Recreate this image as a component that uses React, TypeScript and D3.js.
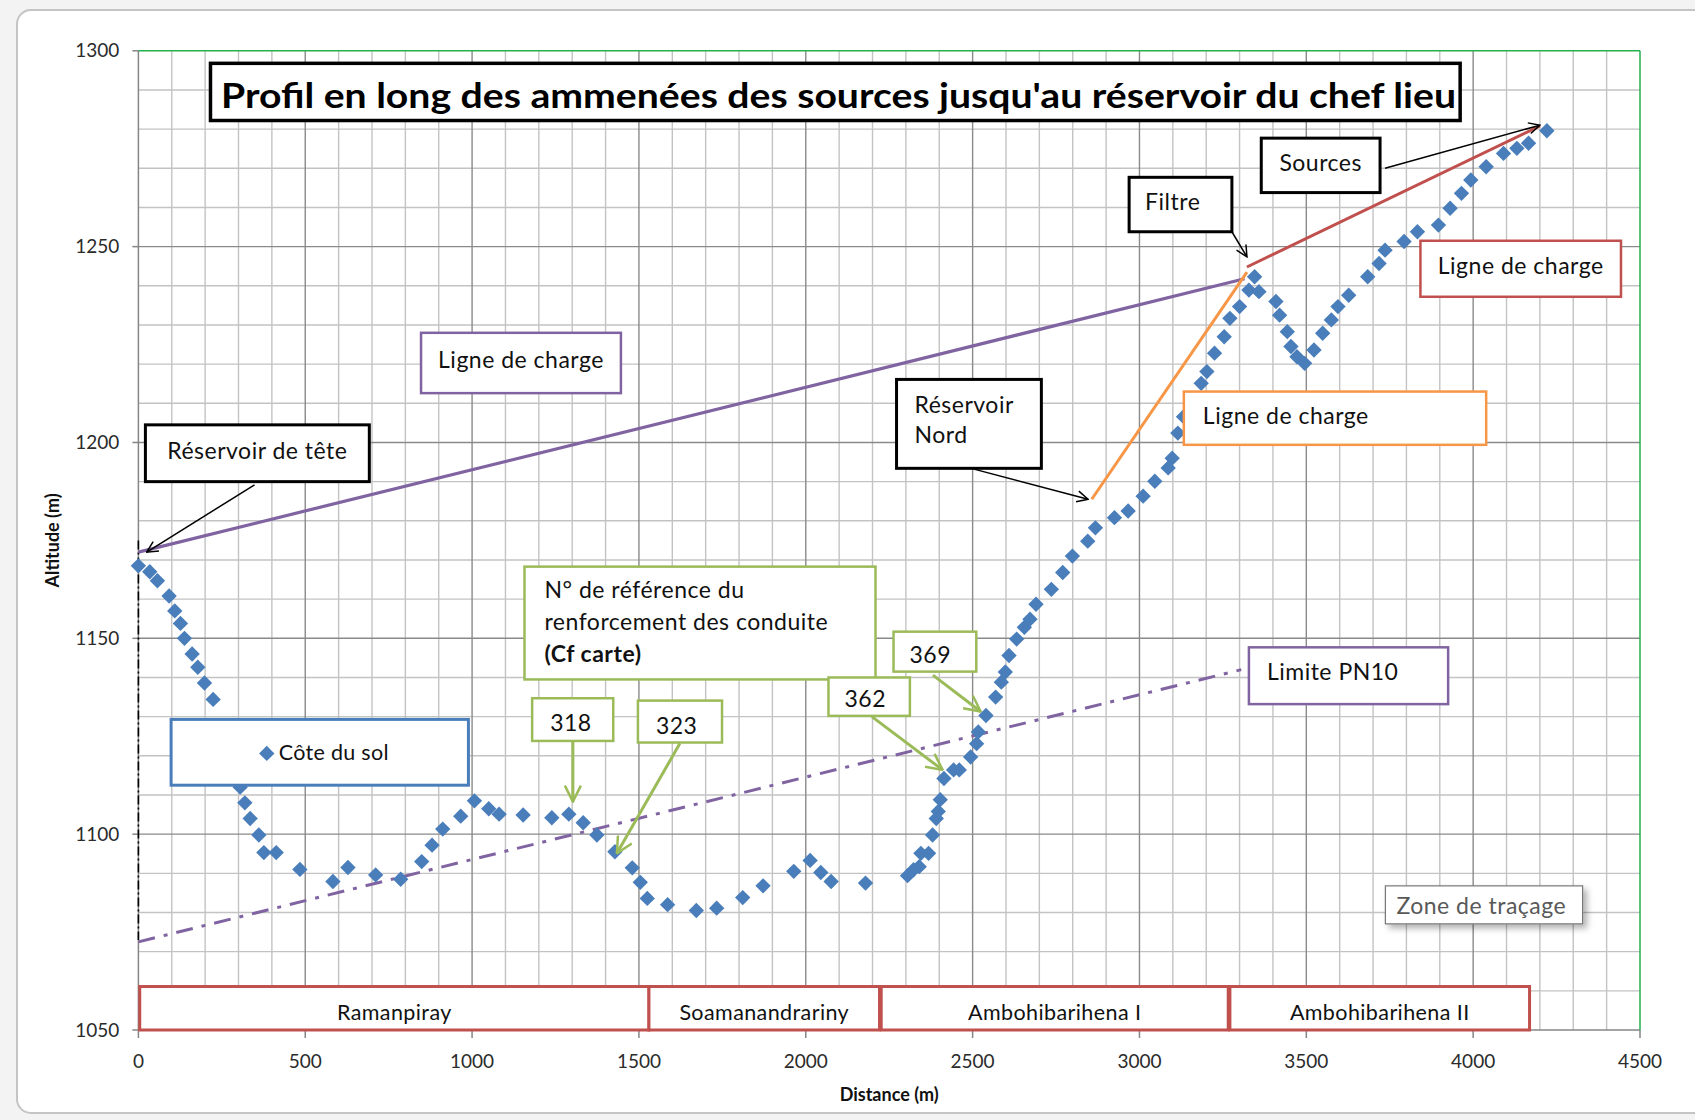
import React, { useEffect, useRef } from "react";
import * as d3 from "d3";

// Côte du sol (terrain profile)
const distance = [0, 34, 57, 92, 109, 126, 138, 161, 178, 198, 224, 305, 319, 335, 361, 376, 413, 484, 583, 628, 711, 786, 849, 880, 912, 966, 1007, 1050, 1081, 1153, 1239, 1290, 1333, 1374, 1428, 1480, 1504, 1525, 1586, 1672, 1733, 1811, 1872, 1964, 2013, 2045, 2076, 2179, 2305, 2323, 2340, 2345, 2368, 2380, 2391, 2397, 2403, 2414, 2443, 2460, 2494, 2512, 2517, 2540, 2569, 2586, 2598, 2609, 2632, 2655, 2672, 2690, 2736, 2770, 2799, 2845, 2868, 2925, 2966, 3011, 3046, 3086, 3098, 3115, 3132, 3185, 3202, 3225, 3254, 3271, 3300, 3328, 3345, 3358, 3409, 3420, 3443, 3454, 3472, 3495, 3523, 3549, 3575, 3595, 3627, 3684, 3718, 3736, 3793, 3833, 3896, 3931, 3965, 3993, 4039, 4091, 4131, 4166, 4221];
const altitude = [1168.5, 1167, 1164.7, 1160.8, 1157, 1153.8, 1150, 1146, 1142.6, 1138.6, 1134.4, 1112, 1108, 1104, 1099.8, 1095.3, 1095.3, 1091, 1087.9, 1091.5, 1089.6, 1088.5, 1093, 1097.2, 1101.3, 1104.6, 1108.5, 1106.5, 1105.1, 1104.9, 1104.2, 1105.1, 1102.9, 1099.8, 1095.5, 1091.4, 1087.7, 1083.6, 1082, 1080.5, 1081.1, 1083.8, 1086.8, 1090.5, 1093.3, 1090.2, 1087.9, 1087.5, 1089.4, 1090.9, 1091.7, 1095.1, 1095.1, 1099.8, 1104, 1105.8, 1108.8, 1114.2, 1116.4, 1116.4, 1119.7, 1123.1, 1126.1, 1130.3, 1135, 1138.8, 1141.4, 1145.6, 1149.8, 1152.8, 1154.9, 1158.7, 1162.5, 1166.8, 1171, 1174.8, 1178.2, 1180.8, 1182.5, 1186.3, 1190.1, 1193.5, 1196, 1202.4, 1206.6, 1215.1, 1218.1, 1222.8, 1227, 1231.7, 1234.7, 1238.9, 1242.3, 1238.5, 1236, 1232.5, 1228.3, 1224.5, 1221.9, 1220.2, 1223.6, 1227.9, 1231.3, 1234.7, 1237.6, 1242.3, 1245.7, 1249.1, 1251.3, 1253.8, 1255.5, 1259.8, 1263.6, 1267, 1270.4, 1273.8, 1275.1, 1276.4, 1279.6];

// lignes de charge
const chargeTeteX = [0, 3315];
const chargeTeteY = [1172, 1241.8];
const chargeNordX = [2857, 3322];
const chargeNordY = [1185.5, 1243.5];
const chargeSourceX = [3322, 4200];
const chargeSourceY = [1244.8, 1280.8];

// limite PN10
const pn10X = [0, 3305];
const pn10Y = [1072.5, 1142];

// zones along the pipe
const zoneNames = ["Ramanpiray", "Soamanandrariny", "Ambohibarihena I", "Ambohibarihena II"];
const zoneStart = [4, 1530, 2226, 3271];
const zoneEnd = [1530, 2221, 3266, 4169];

const xTicks = [0, 500, 1000, 1500, 2000, 2500, 3000, 3500, 4000, 4500];
const yTicks = [1050, 1100, 1150, 1200, 1250, 1300];

const W = 1695;
const H = 1120;
const FONT = "Lato, 'Open Sans', sans-serif";
const PURPLE = "#8064a2";
const ORANGE = "#f79646";
const RED = "#c0504d";
const GREEN = "#9bbb59";
const BLUE = "#4a7ebb";

type Ann = {
  x0: number; x1: number; y0: number; y1: number;
  stroke: string; sw: number;
  lines: { t: string; bold?: boolean }[];
  anchor: "start" | "middle";
  dx: number; dy: number; lh?: number;
};

// callout boxes, placed in chart units
const annotations: Ann[] = [
  { x0: 21, x1: 692, y0: 1204.5, y1: 1190, stroke: "#000", sw: 3, lines: [{ t: "Réservoir de tête" }], anchor: "middle", dx: 0, dy: 34 },
  { x0: 847, x1: 1446, y0: 1228, y1: 1212.6, stroke: PURPLE, sw: 2.5, lines: [{ t: "Ligne de charge" }], anchor: "middle", dx: 0, dy: 35 },
  { x0: 2272, x1: 2706, y0: 1216.1, y1: 1193.4, stroke: "#000", sw: 3, lines: [{ t: "Réservoir" }, { t: "Nord" }], anchor: "start", dx: 18, dy: 34, lh: 30 },
  { x0: 1157, x1: 2209, y0: 1168.3, y1: 1139.5, stroke: GREEN, sw: 2.5, lines: [{ t: "N° de référence du" }, { t: "renforcement des conduite" }, { t: "(Cf carte)", bold: true }], anchor: "start", dx: 20, dy: 31, lh: 32 },
  { x0: 2263, x1: 2511, y0: 1151.7, y1: 1141.5, stroke: GREEN, sw: 2.5, lines: [{ t: "369" }], anchor: "start", dx: 16, dy: 31 },
  { x0: 2068, x1: 2312, y0: 1140, y1: 1130.2, stroke: GREEN, sw: 2.5, lines: [{ t: "362" }], anchor: "start", dx: 16, dy: 30 },
  { x0: 1180, x1: 1423, y0: 1134.7, y1: 1123.8, stroke: GREEN, sw: 2.5, lines: [{ t: "318" }], anchor: "start", dx: 18, dy: 33 },
  { x0: 1497, x1: 1749, y0: 1134.1, y1: 1123.4, stroke: GREEN, sw: 2.5, lines: [{ t: "323" }], anchor: "start", dx: 18, dy: 33 },
  { x0: 2969, x1: 3277, y0: 1267.7, y1: 1253.8, stroke: "#000", sw: 3, lines: [{ t: "Filtre" }], anchor: "start", dx: 16, dy: 33 },
  { x0: 3365, x1: 3721, y0: 1277.7, y1: 1263.8, stroke: "#000", sw: 3, lines: [{ t: "Sources" }], anchor: "middle", dx: 0, dy: 33 },
  { x0: 3842, x1: 4443, y0: 1251.5, y1: 1237.2, stroke: RED, sw: 2.5, lines: [{ t: "Ligne de charge" }], anchor: "middle", dx: 0, dy: 33 },
  { x0: 3133, x1: 4039, y0: 1213, y1: 1199.4, stroke: ORANGE, sw: 2.5, lines: [{ t: "Ligne de charge" }], anchor: "start", dx: 19, dy: 32 },
  { x0: 3328, x1: 3925, y0: 1147.7, y1: 1133.2, stroke: PURPLE, sw: 2.5, lines: [{ t: "Limite PN10" }], anchor: "start", dx: 18, dy: 33 },
];

// arrows: [fromX, fromY, toX, toY]
const blackArrows = [
  [348, 1189.2, 25, 1172],
  [2504, 1193.2, 2846, 1185.5],
  [3277, 1253.8, 3322, 1247.4],
  [3736, 1270, 4200, 1281],
];
const greenArrows = [
  [2381, 1140.6, 2524, 1131.3],
  [2198, 1130, 2410, 1116.4],
  [1302, 1123.6, 1302, 1108.3],
  [1623, 1123.2, 1434, 1095.1],
];

export default function App() {
  const ref = useRef<SVGSVGElement>(null);

  useEffect(() => {
    const svg = d3.select(ref.current);
    svg.selectAll("*").remove();

    const x = d3.scaleLinear().domain([0, 4500]).range([138.4, 1640]);
    const y = d3.scaleLinear().domain([1050, 1300]).range([1030, 50.8]);

    const defs = svg.append("defs");
    const mk = (id: string, color: string, s: number, sw: number) =>
      defs.append("marker")
        .attr("id", id)
        .attr("viewBox", `0 0 ${s} ${s}`)
        .attr("refX", s - 1).attr("refY", s / 2)
        .attr("markerWidth", s).attr("markerHeight", s)
        .attr("markerUnits", "userSpaceOnUse")
        .attr("orient", "auto")
        .append("path")
        .attr("d", `M1,1 L${s - 1},${s / 2} L1,${s - 1}`)
        .attr("fill", "none").attr("stroke", color).attr("stroke-width", sw);
    mk("arrBlack", "#000", 13, 1.5);
    mk("arrGreen", GREEN, 18, 2.5);
    const sh = defs.append("filter").attr("id", "shadow").attr("x", "-10%").attr("y", "-20%").attr("width", "130%").attr("height", "160%");
    sh.append("feDropShadow").attr("dx", 4).attr("dy", 4).attr("stdDeviation", 3).attr("flood-color", "#000").attr("flood-opacity", 0.3);

    // background + chart frame
    svg.append("rect").attr("width", W).attr("height", H).attr("fill", "#f3f3f3");
    svg.append("rect").attr("x", 17).attr("y", 10).attr("width", 1760).attr("height", 1103)
      .attr("rx", 14).attr("fill", "#fff").attr("stroke", "#c4c4c4").attr("stroke-width", 2);

    // grid
    const grid = svg.append("g");
    const minorX = d3.range(100, 4500, 100).filter(v => v % 500 !== 0);
    const minorY = d3.range(1060, 1300, 10).filter(v => v % 50 !== 0);
    grid.selectAll(".mx").data(minorX).join("line")
      .attr("x1", d => x(d)).attr("x2", d => x(d)).attr("y1", y(1300)).attr("y2", y(1050))
      .attr("stroke", "#c3c3c3").attr("stroke-width", 1.4);
    grid.selectAll(".my").data(minorY).join("line")
      .attr("y1", d => y(d)).attr("y2", d => y(d)).attr("x1", x(0)).attr("x2", x(4500))
      .attr("stroke", "#c3c3c3").attr("stroke-width", 1.4);
    grid.selectAll(".Mx").data(xTicks.slice(1, -1)).join("line")
      .attr("x1", d => x(d)).attr("x2", d => x(d)).attr("y1", y(1300)).attr("y2", y(1050))
      .attr("stroke", "#8a8a8a").attr("stroke-width", 1.4);
    grid.selectAll(".My").data(yTicks.slice(1, -1)).join("line")
      .attr("y1", d => y(d)).attr("y2", d => y(d)).attr("x1", x(0)).attr("x2", x(4500))
      .attr("stroke", "#8a8a8a").attr("stroke-width", 1.4);

    // axes
    svg.append("line").attr("x1", x(0)).attr("x2", x(0)).attr("y1", y(1300)).attr("y2", y(1050))
      .attr("stroke", "#868686").attr("stroke-width", 1.5);
    svg.append("line").attr("x1", x(0)).attr("x2", x(4500)).attr("y1", y(1050)).attr("y2", y(1050))
      .attr("stroke", "#868686").attr("stroke-width", 1.5);
    svg.append("line").attr("x1", x(0)).attr("x2", x(4500)).attr("y1", y(1300)).attr("y2", y(1300))
      .attr("stroke", "#22b14c").attr("stroke-width", 1.5);
    svg.append("line").attr("x1", x(4500)).attr("x2", x(4500)).attr("y1", y(1300)).attr("y2", y(1050))
      .attr("stroke", "#22b14c").attr("stroke-width", 1.5);

    svg.selectAll(".yt").data(yTicks).join("line")
      .attr("x1", x(0) - 6).attr("x2", x(0)).attr("y1", d => y(d)).attr("y2", d => y(d))
      .attr("stroke", "#868686").attr("stroke-width", 1.5);
    svg.selectAll(".xt").data(xTicks).join("line")
      .attr("x1", d => x(d)).attr("x2", d => x(d)).attr("y1", y(1050)).attr("y2", y(1050) + 8)
      .attr("stroke", "#868686").attr("stroke-width", 1.5);

    svg.selectAll(".yl").data(yTicks).join("text")
      .attr("x", x(0) - 19).attr("y", d => y(d)).attr("dy", "0.35em")
      .attr("text-anchor", "end").attr("font-family", FONT).attr("font-size", 19).attr("fill", "#2b2b2b")
      .text(d => d);
    svg.selectAll(".xl").data(xTicks).join("text")
      .attr("x", d => x(d)).attr("y", y(1050) + 38)
      .attr("text-anchor", "middle").attr("font-family", FONT).attr("font-size", 19).attr("fill", "#2b2b2b")
      .text(d => d);

    svg.append("text").attr("x", (x(0) + x(4500)) / 2).attr("y", 1101)
      .attr("text-anchor", "middle").attr("font-family", FONT).attr("font-size", 18).attr("font-weight", "bold")
      .attr("fill", "#111").text("Distance (m)");
    svg.append("text").attr("transform", `translate(59,${(y(1300) + y(1050)) / 2}) rotate(-90)`)
      .attr("text-anchor", "middle").attr("font-family", FONT).attr("font-size", 18).attr("font-weight", "bold")
      .attr("fill", "#111").text("Altitude (m)");

    // vertical dash-dot at the start
    svg.append("line").attr("x1", x(0)).attr("x2", x(0)).attr("y1", y(1175)).attr("y2", y(1073))
      .attr("stroke", "#000").attr("stroke-width", 1.6).attr("stroke-dasharray", "9,3,2,3");

    const seg = (xs: number[], ys: number[]) =>
      d3.line<number>().x(i => x(xs[i])).y(i => y(ys[i]))(d3.range(xs.length));

    svg.append("path").attr("d", seg(pn10X, pn10Y)).attr("fill", "none")
      .attr("stroke", PURPLE).attr("stroke-width", 3).attr("stroke-dasharray", "17,9,4,9");
    svg.append("path").attr("d", seg(chargeTeteX, chargeTeteY)).attr("fill", "none")
      .attr("stroke", PURPLE).attr("stroke-width", 3.2);
    svg.append("path").attr("d", seg(chargeNordX, chargeNordY)).attr("fill", "none")
      .attr("stroke", ORANGE).attr("stroke-width", 3);
    svg.append("path").attr("d", seg(chargeSourceX, chargeSourceY)).attr("fill", "none")
      .attr("stroke", RED).attr("stroke-width", 3);

    // terrain points
    const diamond = d3.symbol().type(d3.symbolSquare).size(118);
    svg.append("g").selectAll("path").data(d3.range(distance.length)).join("path")
      .attr("d", diamond)
      .attr("transform", i => `translate(${x(distance[i])},${y(altitude[i])}) rotate(45)`)
      .attr("fill", BLUE);

    // title
    const tx0 = x(216), tx1 = x(3961), ty0 = y(1296.8), ty1 = y(1282.2);
    svg.append("rect").attr("x", tx0).attr("y", ty0).attr("width", tx1 - tx0).attr("height", ty1 - ty0)
      .attr("fill", "#fff").attr("stroke", "#000").attr("stroke-width", 3.5);
    svg.append("text").attr("x", tx0 + 10.5).attr("y", ty0 + 45)
      .attr("font-family", FONT).attr("font-weight", "bold").attr("font-size", 35).attr("fill", "#000")
      .attr("textLength", 1235).attr("lengthAdjust", "spacingAndGlyphs")
      .text("Profil en long des ammenées des sources jusqu'au réservoir du chef lieu");

    // zone boxes
    const zones = svg.append("g");
    zoneNames.forEach((name, i) => {
      const bx0 = x(zoneStart[i]), bx1 = x(zoneEnd[i]), by0 = y(1061.1), by1 = y(1050);
      zones.append("rect").attr("x", bx0).attr("y", by0).attr("width", bx1 - bx0).attr("height", by1 - by0)
        .attr("fill", "#fff").attr("stroke", RED).attr("stroke-width", 3);
      zones.append("text").attr("x", (bx0 + bx1) / 2).attr("y", by0 + 33)
        .attr("text-anchor", "middle").attr("font-family", FONT).attr("font-size", 21.5)
        .attr("letter-spacing", 0.4).attr("fill", "#111")
        .text(name);
    });

    // legend
    const lx0 = x(98), lx1 = x(989), ly0 = y(1129.3), ly1 = y(1112.5);
    svg.append("rect").attr("x", lx0).attr("y", ly0).attr("width", lx1 - lx0).attr("height", ly1 - ly0)
      .attr("fill", "#fff").attr("stroke", BLUE).attr("stroke-width", 3);
    const lc = (lx0 + lx1) / 2;
    svg.append("path").attr("d", diamond).attr("transform", `translate(${lc - 53},${ly0 + 34}) rotate(45)`).attr("fill", BLUE);
    svg.append("text").attr("x", lc - 41).attr("y", ly0 + 41).attr("font-family", FONT).attr("font-size", 21.5)
      .attr("letter-spacing", 0.3).attr("fill", "#111").text("Côte du sol");

    // zone de traçage tooltip
    const zx0 = x(3737), zx1 = x(4328), zy0 = y(1086.8), zy1 = y(1077.1);
    svg.append("rect").attr("x", zx0).attr("y", zy0).attr("width", zx1 - zx0).attr("height", zy1 - zy0)
      .attr("fill", "#fff").attr("stroke", "#777").attr("stroke-width", 1.2).attr("filter", "url(#shadow)");
    svg.append("text").attr("x", zx0 + 11).attr("y", zy0 + 28).attr("font-family", FONT).attr("font-size", 23)
      .attr("letter-spacing", 0.5).attr("fill", "#595959").text("Zone de traçage");

    // callouts
    annotations.forEach(a => {
      const bx0 = x(a.x0), bx1 = x(a.x1), by0 = y(a.y0), by1 = y(a.y1);
      svg.append("rect").attr("x", bx0).attr("y", by0).attr("width", bx1 - bx0).attr("height", by1 - by0)
        .attr("fill", "#fff").attr("stroke", a.stroke).attr("stroke-width", a.sw);
      const t = svg.append("text").attr("font-family", FONT).attr("font-size", 23).attr("letter-spacing", 0.5)
        .attr("fill", "#111").attr("text-anchor", a.anchor);
      a.lines.forEach((l, k) => {
        t.append("tspan")
          .attr("x", a.anchor === "middle" ? (bx0 + bx1) / 2 : bx0 + a.dx)
          .attr("y", by0 + a.dy + k * (a.lh ?? 0))
          .attr("font-weight", l.bold ? "bold" : "normal")
          .text(l.t);
      });
    });

    // arrows
    svg.selectAll(".ab").data(blackArrows).join("line")
      .attr("x1", d => x(d[0])).attr("y1", d => y(d[1])).attr("x2", d => x(d[2])).attr("y2", d => y(d[3]))
      .attr("stroke", "#000").attr("stroke-width", 1.5).attr("marker-end", "url(#arrBlack)");
    svg.selectAll(".ag").data(greenArrows).join("line")
      .attr("x1", d => x(d[0])).attr("y1", d => y(d[1])).attr("x2", d => x(d[2])).attr("y2", d => y(d[3]))
      .attr("stroke", GREEN).attr("stroke-width", 3).attr("marker-end", "url(#arrGreen)");
  }, []);

  return (
    <svg
      ref={ref}
      width={W}
      height={H}
      style={{ position: "absolute", left: 0, top: 0, background: "#fff" }}
    ></svg>
  );
}
